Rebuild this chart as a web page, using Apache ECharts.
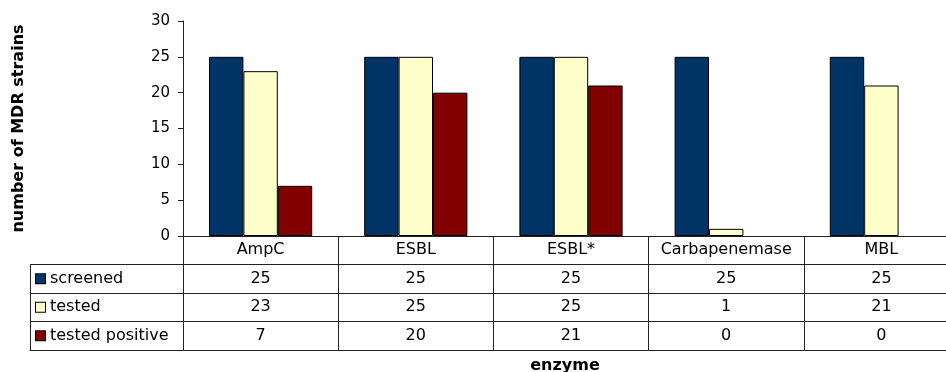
<!DOCTYPE html>
<html>
<head>
<meta charset="utf-8">
<script src="https://cdn.jsdelivr.net/npm/echarts@6/dist/echarts.min.js"></script>
<style>
html,body{margin:0;padding:0;background:#fff;}
#chart{width:946px;height:372px;}
</style>
</head>
<body>
<div id="chart"></div>
<script>
var categories = ['AmpC', 'ESBL', 'ESBL*', 'Carbapenemase', 'MBL'];
var seriesNames = ['screened', 'tested', 'tested positive'];
var screened = [25, 25, 25, 25, 25];
var tested = [23, 25, 25, 1, 21];
var testedPositive = [7, 20, 21, 0, 0];
var yTicks = [0, 5, 10, 15, 20, 25, 30];
var colors = ['#003366', '#FFFFCC', '#800000'];

var seriesValues = [screened, tested, testedPositive];
var tableRows = ['header'].concat(seriesNames);

var FONT = 'DejaVu Sans';
var LINE = '#222222';

var chart = echarts.init(document.getElementById('chart'), null, {renderer: 'canvas'});

// table cell data built from the arrays
var headerCells = categories.map(function (c) { return {value: [c, 'header'], name: c}; });
var valueCells = [];
seriesNames.forEach(function (s, si) {
  categories.forEach(function (c, ci) {
    valueCells.push({value: [c, s], name: String(seriesValues[si][ci])});
  });
});

var rich = {};
seriesNames.forEach(function (s, i) {
  rich['b' + i] = {width: 9, height: 9, backgroundColor: colors[i], borderColor: '#000', borderWidth: 1};
  rich['t' + i] = {fontFamily: FONT, fontSize: 16, color: '#000', padding: [0, 0, 0, 5]};
});

var option = {
  animation: false,
  backgroundColor: '#fff',
  grid: [
    {left: 183, top: 21, width: 776, height: 215, outerBoundsMode: 'none', containLabel: false},
    {left: 183, top: 236, width: 776, height: 114, outerBoundsMode: 'none', containLabel: false},
    {left: 30, top: 264.5, width: 153, height: 85.5, outerBoundsMode: 'none', containLabel: false}
  ],
  xAxis: [
    {
      gridIndex: 0, type: 'category', data: categories,
      axisLine: {show: true, lineStyle: {color: LINE, width: 1}},
      axisTick: {show: false}, axisLabel: {show: false}, splitLine: {show: false}
    },
    {
      gridIndex: 1, type: 'category', data: categories,
      axisLine: {show: true, lineStyle: {color: LINE}},
      axisTick: {show: false}, axisLabel: {show: false},
      splitLine: {show: true, lineStyle: {color: LINE, width: 1}},
      name: 'enzyme', nameLocation: 'middle', nameGap: 8,
      nameTextStyle: {fontFamily: FONT, fontSize: 16, fontWeight: 'bold', color: '#000', padding: [0, 12, 0, 0]}
    },
    {
      gridIndex: 2, type: 'category', data: [''],
      axisLine: {show: true, lineStyle: {color: LINE}},
      axisTick: {show: false}, axisLabel: {show: false},
      splitLine: {show: true, lineStyle: {color: LINE, width: 1}}
    }
  ],
  yAxis: [
    {
      gridIndex: 0, type: 'value', min: 0, max: 30, interval: 5,
      axisLine: {show: true, lineStyle: {color: LINE, width: 1}},
      axisTick: {show: true, length: 5, lineStyle: {color: LINE}},
      splitLine: {show: false},
      axisLabel: {
        fontFamily: FONT, fontSize: 15, color: '#000', margin: 13,
        formatter: function (v) { return yTicks.indexOf(v) >= 0 ? String(v) : ''; }
      },
      name: 'number of MDR strains', nameLocation: 'middle', nameRotate: 90, nameGap: 156,
      nameTextStyle: {fontFamily: FONT, fontSize: 16, fontWeight: 'bold', color: '#000'}
    },
    {
      gridIndex: 1, type: 'category', data: tableRows, inverse: true,
      axisLine: {show: true, lineStyle: {color: LINE}},
      axisTick: {show: false}, axisLabel: {show: false},
      splitLine: {show: true, lineStyle: {color: LINE, width: 1}}
    },
    {
      gridIndex: 2, type: 'category', data: seriesNames, inverse: true,
      axisLine: {show: true, lineStyle: {color: LINE}},
      axisTick: {show: false},
      splitLine: {show: true, lineStyle: {color: LINE, width: 1}},
      axisLabel: {
        show: true, inside: true, margin: 6, align: 'left',
        formatter: function (v, i) { return '{b' + i + '|}{t' + i + '|' + v + '}'; },
        rich: rich
      }
    }
  ],
  series: seriesNames.map(function (s, i) {
    return {
      type: 'bar', name: s, xAxisIndex: 0, yAxisIndex: 0,
      data: seriesValues[i].map(function (v) {
        return v === 0 ? {value: v, itemStyle: {borderWidth: 0, opacity: 0}} : v;
      }),
      barGap: '0%', barCategoryGap: '33.5%',
      itemStyle: {color: colors[i], borderColor: '#000', borderWidth: 1}
    };
  }).concat([
    {
      type: 'scatter', xAxisIndex: 1, yAxisIndex: 1, symbolSize: 1,
      itemStyle: {color: 'rgba(0,0,0,0)', opacity: 1}, silent: true,
      data: headerCells.concat(valueCells),
      label: {
        show: true, position: 'inside', formatter: '{b}',
        fontFamily: FONT, fontSize: 16, color: '#000', opacity: 1
      }
    }
  ])
};
chart.setOption(option);
</script>
</body>
</html>
